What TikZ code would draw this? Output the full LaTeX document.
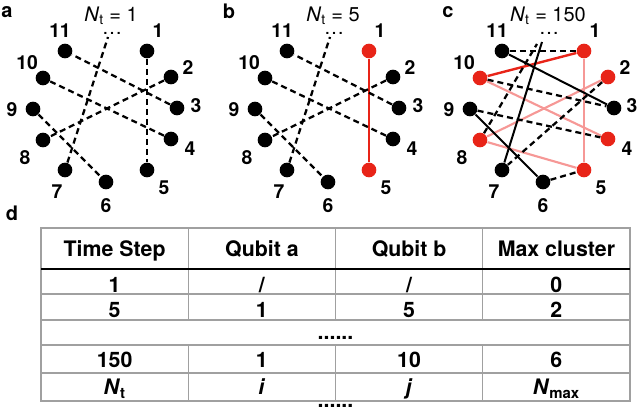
\documentclass[tikz,border=0pt]{standalone}
\usepackage{fontspec}
\setmainfont{TeX Gyre Heros}

\definecolor{qred}{RGB}{232,36,24}
\definecolor{qpink}{RGB}{246,152,150}
\definecolor{gridgray}{RGB}{160,160,160}

\tikzset{every picture/.style={line width=0.75pt}}
\tikzset{
  qubit/.style={circle,fill=black,inner sep=0pt,minimum size=11pt},
  redqubit/.style={qubit,fill=qred},
  qlabel/.style={font=\fontsize{14.5}{16}\selectfont\bfseries,inner sep=0pt},
  panel/.style={font=\fontsize{15}{17}\selectfont\bfseries,inner sep=0pt},
  steptitle/.style={font=\fontsize{15}{17}\selectfont,inner sep=0pt,anchor=base},
  dashlink/.style={line width=1.7pt,dash pattern=on 4.5pt off 3pt},
  solidlink/.style={line width=1.5pt},
  redlink/.style={line width=1.8pt,draw=qred},
  pinklink/.style={line width=1.6pt,draw=qpink},
  tline/.style={draw=gridgray,line width=0.9pt},
  tcell/.style={font=\fontsize{16}{18}\selectfont\bfseries,inner sep=0pt,anchor=base}
}

\begin{document}
\begin{tikzpicture}[x=0.75pt,y=0.75pt,yscale=-1,xscale=1]
\useasboundingbox (0,0) rectangle (640,413);

%%% Panel a
% Text Node
\node[panel] (pa) at (7,12) {a};
\node[steptitle] (ta) at (111,22) {\textit{N}\textsubscript{t} = 1};
\node[steptitle] (da) at (112,35) {\dots};
%Shape: Circle
\node[qubit] (a1) at (147,51) {};
\node[qubit] (a2) at (171,77) {};
\node[qubit] (a3) at (177,108) {};
\node[qubit] (a4) at (171,139) {};
\node[qubit] (a5) at (147,170) {};
\node[qubit] (a6) at (106,182) {};
\node[qubit] (a7) at (65,170) {};
\node[qubit] (a8) at (43,140) {};
\node[qubit] (a9) at (33,109) {};
\node[qubit] (a10) at (43,78) {};
\node[qubit] (a11) at (65,51) {};
\coordinate (atop) at (108,37);
% Text Node
\node[qlabel] (a1t) at (158,31) {1};
\node[qlabel] (a2t) at (188,68) {2};
\node[qlabel] (a3t) at (196,106) {3};
\node[qlabel] (a4t) at (190,149) {4};
\node[qlabel] (a5t) at (164,188) {5};
\node[qlabel] (a6t) at (106,206) {6};
\node[qlabel] (a7t) at (57,192) {7};
\node[qlabel] (a8t) at (25,158) {8};
\node[qlabel] (a9t) at (12,110) {9};
\node[qlabel] (a10t) at (27,63) {10};
\node[qlabel] (a11t) at (60,31) {11};
%Straight Lines
\draw[dashlink] (a1) -- (a5);
\draw[dashlink] (a2) -- (a8);
\draw[dashlink] (a3) -- (a11);
\draw[dashlink] (a4) -- (a10);
\draw[dashlink] (a9) -- (a6);
\draw[dashlink] (a7) -- (atop);

%%% Panel b
% Text Node
\node[panel] (pb) at (229,11) {b};
\node[steptitle] (tb) at (333,22) {\textit{N}\textsubscript{t} = 5};
\node[steptitle] (db) at (334,35) {\dots};
%Shape: Circle
\node[redqubit] (b1) at (369,51) {};
\node[qubit] (b2) at (393,77) {};
\node[qubit] (b3) at (399,108) {};
\node[qubit] (b4) at (393,139) {};
\node[redqubit] (b5) at (369,170) {};
\node[qubit] (b6) at (328,182) {};
\node[qubit] (b7) at (287,170) {};
\node[qubit] (b8) at (265,140) {};
\node[qubit] (b9) at (255,109) {};
\node[qubit] (b10) at (265,78) {};
\node[qubit] (b11) at (287,51) {};
\coordinate (btop) at (330,37);
% Text Node
\node[qlabel] (b1t) at (380,31) {1};
\node[qlabel] (b2t) at (410,68) {2};
\node[qlabel] (b3t) at (418,106) {3};
\node[qlabel] (b4t) at (412,149) {4};
\node[qlabel] (b5t) at (386,188) {5};
\node[qlabel] (b6t) at (328,206) {6};
\node[qlabel] (b7t) at (279,192) {7};
\node[qlabel] (b8t) at (247,158) {8};
\node[qlabel] (b9t) at (234,110) {9};
\node[qlabel] (b10t) at (249,63) {10};
\node[qlabel] (b11t) at (282,31) {11};
%Straight Lines
\draw[redlink] (b1) -- (b5);
\draw[dashlink] (b2) -- (b8);
\draw[dashlink] (b3) -- (b11);
\draw[dashlink] (b4) -- (b10);
\draw[dashlink] (b9) -- (b6);
\draw[dashlink] (b7) -- (btop);

%%% Panel c
% Text Node
\node[panel] (pc) at (448,12) {c};
\node[steptitle] (tc) at (548,22) {\textit{N}\textsubscript{t} = 150};
\node[steptitle] (dc) at (549,35) {\dots};
%Shape: Circle
\node[redqubit] (c1) at (584,51) {};
\node[redqubit] (c2) at (608,77) {};
\node[qubit] (c3) at (614,108) {};
\node[redqubit] (c4) at (608,139) {};
\node[redqubit] (c5) at (584,170) {};
\node[qubit] (c6) at (543,182) {};
\node[qubit] (c7) at (502,170) {};
\node[redqubit] (c8) at (480,140) {};
\node[qubit] (c9) at (470,109) {};
\node[redqubit] (c10) at (480,78) {};
\node[qubit] (c11) at (502,51) {};
\coordinate (c7end) at (542,42);
\coordinate (c8end) at (537,44);
% Text Node
\node[qlabel] (c1t) at (595,31) {1};
\node[qlabel] (c2t) at (625,68) {2};
\node[qlabel] (c3t) at (632,106) {3};
\node[qlabel] (c4t) at (627,149) {4};
\node[qlabel] (c5t) at (601,188) {5};
\node[qlabel] (c6t) at (543,206) {6};
\node[qlabel] (c7t) at (494,192) {7};
\node[qlabel] (c8t) at (462,158) {8};
\node[qlabel] (c9t) at (449,110) {9};
\node[qlabel] (c10t) at (464,63) {10};
\node[qlabel] (c11t) at (497,31) {11};
%Straight Lines
\draw[pinklink] (c1) -- (c5);
\draw[pinklink] (c10) -- (c4);
\draw[pinklink] (c2) -- (c8);
\draw[pinklink] (c8) -- (c5);
\draw[redlink] (c10) -- (c1);
\draw[solidlink] (c11) -- (c3);
\draw[solidlink] (c9) -- (c6);
\draw[solidlink] (c7) -- (c7end);
\draw[dashlink] (c11) -- (c1);
\draw[dashlink] (c10) -- (c3);
\draw[dashlink] (c2) -- (c7);
\draw[dashlink] (c8) -- (c8end);
\draw[dashlink] (c9) -- (c4);
\draw[dashlink] (c6) -- (c5);

%%% Panel d
% Text Node
\node[panel] (pd) at (12,213) {d};
%Shape: Table
\draw[tline] (41,228) rectangle (630,401);
\draw[tline] (41,294) -- (630,294);
\draw[tline] (41,320) -- (630,320);
\draw[tline] (41,345) -- (630,345);
\draw[tline] (41,373) -- (630,373);
\draw[tline] (188.25,228) -- (188.25,320) (188.25,345) -- (188.25,401);
\draw[tline] (335.5,228) -- (335.5,320) (335.5,345) -- (335.5,401);
\draw[tline] (482.75,228) -- (482.75,320) (482.75,345) -- (482.75,401);
\draw[line width=1.4pt] (41,269) -- (630,269);
% Text Node
\node[tcell] (h1) at (114.6,257) {Time Step};
\node[tcell] (h2) at (261.9,257) {Qubit a};
\node[tcell] (h3) at (409.1,257) {Qubit b};
\node[tcell] (h4) at (556.4,257) {Max cluster};
\node[tcell] (r11) at (114.6,292.5) {1};
\node[tcell] (r12) at (261.9,292.5) {/};
\node[tcell] (r13) at (409.1,292.5) {/};
\node[tcell] (r14) at (556.4,292.5) {0};
\node[tcell] (r21) at (114.6,318) {5};
\node[tcell] (r22) at (261.9,318) {1};
\node[tcell] (r23) at (409.1,318) {5};
\node[tcell] (r24) at (556.4,318) {2};
\node[tcell] (rdots) at (335.5,340) {......};
\node[tcell] (r41) at (114.6,368) {150};
\node[tcell] (r42) at (261.9,368) {1};
\node[tcell] (r43) at (409.1,368) {10};
\node[tcell] (r44) at (556.4,368) {6};
\node[tcell] (r51) at (114.6,395) {\textit{N}\textsubscript{t}};
\node[tcell] (r52) at (261.9,395) {\textit{i}};
\node[tcell] (r53) at (409.1,395) {\textit{j}};
\node[tcell] (r54) at (556.4,395) {\textit{N}\textsubscript{max}};
\node[tcell] (enddots) at (335.5,408) {......};

\end{tikzpicture}
\end{document}
